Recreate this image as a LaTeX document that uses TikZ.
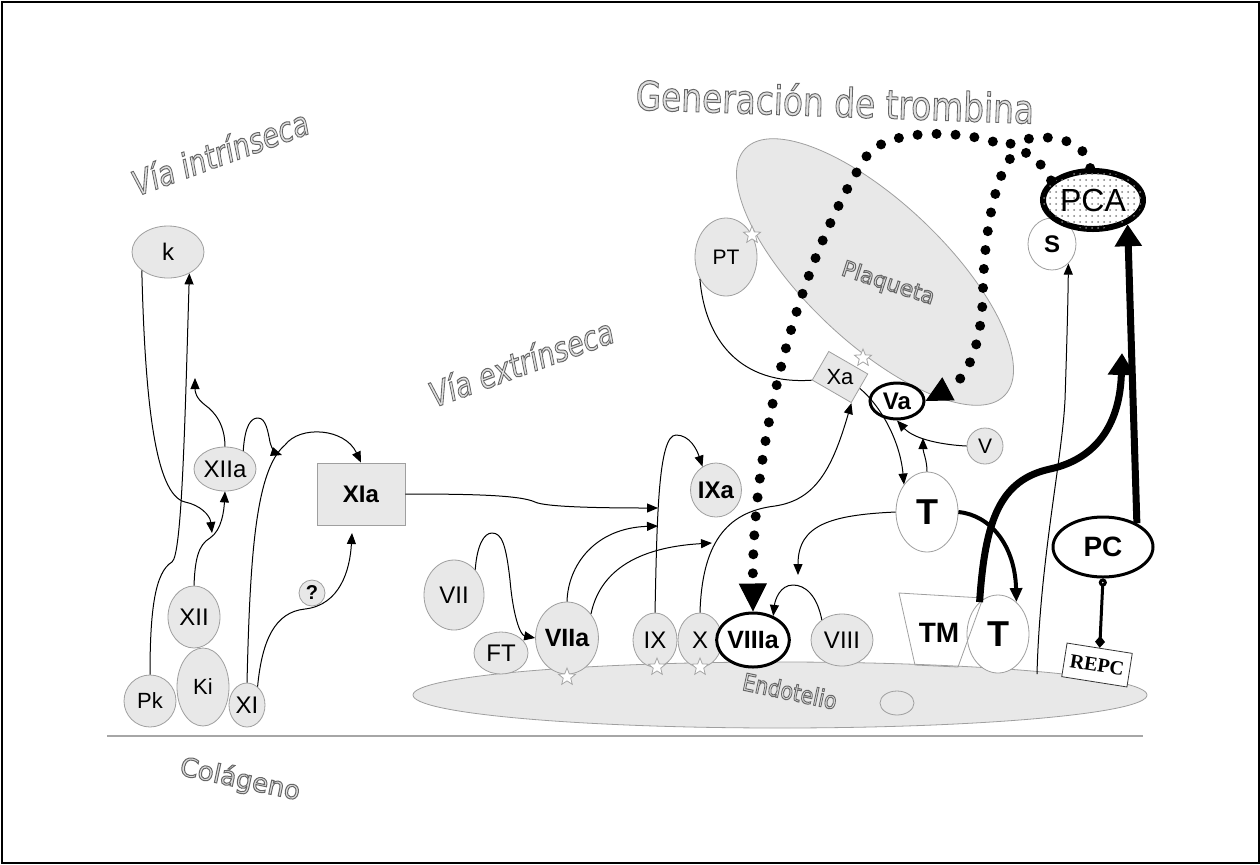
\documentclass[tikz,border=0pt]{standalone}
\usepackage{fontspec}
\setmainfont{Liberation Sans}
\newfontfamily\ttlfont{DejaVu Sans}
\newfontfamily\repcfont{Liberation Serif}
\usetikzlibrary{arrows.meta,shapes.geometric,patterns}
\newcommand\outlined[1]{\special{pdf:literal direct 2 Tr 0.5 w 0.4 G 0.88 g}#1\special{pdf:literal direct 0 Tr 0 g 0 G}}

\begin{document}
\begin{tikzpicture}[x=0.5pt, y=-0.5pt,
	fac/.style={ellipse, draw=gray!75, fill=gray!18, inner sep=0pt, font=\fontsize{12}{12}\selectfont},
	wnode/.style={ellipse, draw=gray!75, fill=white, inner sep=0pt},
	sz/.style 2 args={minimum width=#1pt, minimum height=#2pt},
	arr/.style={line width=0.5pt, -{Triangle[length=5.5pt,width=4.5pt]}},
	dotline/.style={line width=5pt, line cap=round, dash pattern=on 0pt off 9.5pt},
	starm/.style={star, star points=5, star point ratio=2.3, draw=gray!70, fill=white, inner sep=0pt, minimum size=9pt},
	ttl/.style={font=\ttlfont\fontsize{#1}{#1}\selectfont, inner sep=0pt}]
	\useasboundingbox (0,0) rectangle (1260,864);
	\draw[line width=1pt] (1.5,1.5) rectangle (1258.5,862.5);
	\draw[gray!70, line width=1pt] (107,736) -- (1143,736);

	\node[fac, sz={367}{33}] (endo) at (780,695) {};
	\node[fac, sz={17}{12}] (vac) at (897,703) {};
	\node[fac, sz={179}{70}, rotate=-43.5] (plaq) at (875,272) {};

	\node[ttl=17, rotate=20, xscale=0.8] (vint) at (220,152) {\itshape\outlined{Vía intrínseca}};
	\node[ttl=17, rotate=20, xscale=0.8] (vext) at (521,362) {\itshape\outlined{Vía extrínseca}};
	\node[ttl=20, rotate=-2, xscale=0.82] (gen) at (835,101) {\outlined{Generación de trombina}};
	\node[ttl=11, rotate=-18] (plab) at (888,284) {\outlined{Plaqueta}};
	\node[ttl=12, rotate=-12, xscale=0.85] (elab) at (790,691) {\outlined{Endotelio}};
	\node[ttl=13, rotate=-12] (clab) at (240,780) {\outlined{Colágeno}};

	\node[fac, sz={36}{26}] (k) at (168,252) {k};
	\node[fac, sz={31}{22}] (XIIa) at (225,469) {XIIa};
	\node[fac, rectangle, minimum width=44pt, minimum height=31pt, font=\fontsize{12}{12}\selectfont\bfseries] (XIa) at (361,494) {XIa};
	\node[fac, sz={26}{31}] (XII) at (194,617) {XII};
	\node[fac, sz={26}{39}, font=\fontsize{11}{11}\selectfont] (Ki) at (203,687) {Ki};
	\node[fac, sz={26}{26}, font=\fontsize{11}{11}\selectfont] (Pk) at (150,701) {Pk};
	\node[fac, sz={18}{22}] (XI) at (247,705) {XI};
	\node[fac, circle, minimum size=13pt, font=\fontsize{10}{10}\selectfont\bfseries] (q) at (312,593) {?};

	\node[fac, sz={30}{35}] (VII) at (454,595) {VII};
	\node[fac, sz={27}{21}] (FT) at (501,653) {FT};
	\node[fac, sz={31}{36}, font=\fontsize{12.5}{12.5}\selectfont\bfseries] (VIIa) at (567,638) {VIIa};
	\node[fac, sz={22}{27}] (IX) at (655,640) {IX};
	\node[fac, sz={22}{27}] (X) at (700,640) {X};
	\node[wnode, sz={31}{27}, draw=black, line width=1.5pt, font=\fontsize{12.5}{12.5}\selectfont\bfseries] (VIIIa) at (753,640) {VIIIa};
	\node[fac, sz={31}{26}] (VIII) at (842,640) {VIII};
	\node[fac, sz={21}{27}, font=\fontsize{12}{12}\selectfont\bfseries] (IXa) at (716,490) {IXa};

	\node[fac, sz={31}{39}, font=\fontsize{10.5}{10.5}\selectfont] (PT) at (726,257) {PT};
	\node[fac, rectangle, rotate=-30, minimum width=22.5pt, minimum height=16.5pt] (Xa) at (840,377) {};
	\node[font=\fontsize{11}{11}\selectfont] (Xalab) at (Xa) {Xa};
	\node[wnode, sz={27}{18}, draw=black, line width=1.5pt, font=\fontsize{12}{12}\selectfont\bfseries] (Va) at (897,401) {Va};
	\node[fac, sz={18}{18}, font=\fontsize{10.5}{10.5}\selectfont] (V) at (985,446) {V};
	\node[wnode, sz={31}{40}, font=\fontsize{18}{18}\selectfont\bfseries] (Ta) at (927,512) {T};
	\node[wnode, sz={31}{39}, font=\fontsize{18}{18}\selectfont\bfseries] (Tb) at (998,634) {T};
	\draw[gray!75] (899,593) -- (983,598) -- (958,667) -- (915,665) -- cycle;
	\node[font=\fontsize{14}{14}\selectfont\bfseries] (TM) at (939,633) {TM};
	\node[wnode, sz={24}{26}, font=\fontsize{12}{12}\selectfont\bfseries] (S) at (1052,244) {S};
	\node[ellipse, sz={50}{29}, inner sep=0pt, draw=black, line width=3pt, fill=white, postaction={pattern=dots, pattern color=gray}, font=\fontsize{16}{16}\selectfont] (PCA) at (1093,200) {PCA};
	\node[wnode, sz={50}{30}, draw=black, line width=1.5pt, font=\fontsize{14}{14}\selectfont\bfseries] (PC) at (1103,547) {PC};
	\node[draw=black!80, fill=white, rotate=-9, minimum width=33pt, minimum height=17pt, inner sep=0pt, font=\repcfont\fontsize{10}{10}\selectfont\bfseries] (REPC) at (1097,665) {REPC};

	\foreach \p [count=\i] in {(752,235),(863,358),(567,677),(657,667),(700,667)}
		\node[starm] (st\i) at \p {};

	\coordinate (kx) at (212,533);
	\coordinate (xa1) at (195,378);
	\coordinate (xa2) at (282,455);
	\coordinate (qx) at (352,533);
	\coordinate (ix1) at (658,508);
	\coordinate (ix2) at (658,526);
	\coordinate (xx) at (712,543);
	\coordinate (vx) at (923,438);
	\coordinate (tx) at (798,575);
	\coordinate (sbase) at (1037,674);
	\coordinate (pca1) at (1122,353);

	\draw[arr] (k.215) .. controls (145,400) and (155,495) .. (185,502) .. controls (200,505) and (210,515) .. (kx);
	\draw[arr] (Pk.north) .. controls (150,610) and (155,572) .. (172,562) .. controls (182,555) and (185,420) .. (k.-45);
	\draw[arr] (XII.north) .. controls (195,560) and (198,545) .. (210,538) .. controls (222,530) and (224,510) .. (XIIa.south);
	\draw[arr] (XIIa.north) .. controls (225,425) and (215,412) .. (205,405) .. controls (196,398) and (195,392) .. (xa1);
	\draw[arr] (XIIa.45) .. controls (245,425) and (251,418) .. (258,418) .. controls (266,418) and (268,432) .. (270,442) .. controls (272,450) and (276,453) .. (xa2);
	\draw[arr] (XI.north) .. controls (250,560) and (255,470) .. (285,445) .. controls (300,425) and (345,428) .. (XIa.north);
	\draw[arr] (XI.60) .. controls (262,640) and (275,612) .. (305,609) .. controls (340,605) and (350,570) .. (qx);

	\draw[arr] (XIa.east) .. controls (470,494) and (520,495) .. (535,502) .. controls (545,507) and (600,508) .. (ix1);
	\draw[arr] (IX.north) .. controls (657,520) and (658,435) .. (676,435) .. controls (690,435) and (697,450) .. (IXa.120);
	\draw[arr] (VII.50) .. controls (477,545) and (484,533) .. (492,533) .. controls (502,533) and (506,545) .. (510,580) .. controls (513,615) and (520,635) .. (VIIa.west);
	\draw[arr] (VIIa.north) .. controls (568,565) and (595,528) .. (ix2);
	\draw[arr] (VIIa.45) .. controls (598,580) and (625,548) .. (xx);
	\draw[arr] (X.north) .. controls (702,545) and (725,512) .. (775,506) .. controls (815,500) and (832,470) .. (Xa.south east);
	\draw[arr] (VIII.135) .. controls (817,595) and (805,585) .. (793,585) .. controls (780,585) and (775,600) .. (VIIIa.50);

	\draw[line width=0.5pt] (PT.220) .. controls (705,340) and (740,385) .. (Xa.south west);
	\draw[arr] (Xa.east) .. controls (880,405) and (900,440) .. (Ta.130);
	\draw[arr] (V.west) .. controls (945,445) and (915,440) .. (Va.south);
	\draw[arr] (Ta.north) .. controls (927,460) and (923,452) .. (vx);
	\draw[arr] (Ta.west) .. controls (830,515) and (798,525) .. (tx);
	\draw[arr] (sbase) .. controls (1040,560) and (1062,460) .. (1065,400) .. controls (1067,340) and (1068,300) .. (S.-50);
	\draw[line width=2pt, -{Triangle[length=7pt,width=6pt]}] (Ta.east) .. controls (990,515) and (1015,545) .. (Tb.60);
	\draw[line width=3.5pt, -{Triangle[length=11pt,width=13pt]}] (Tb.120) .. controls (985,520) and (1000,480) .. (1050,469) .. controls (1100,458) and (1120,420) .. (pca1);
	\draw[line width=3.5pt, -{Triangle[length=11pt,width=13pt]}] (PC.35) -- (PCA.-35);
	\draw[line width=1.5pt, {Circle[open,length=4pt]}-{Diamond[length=6pt,width=5pt]}] (PC.south) -- (REPC.north);

	\draw[dotline, -{Triangle[length=14pt,width=14pt,line width=0.5pt]}] (PCA.95) .. controls (1088,140) and (1045,128) .. (1005,146) .. controls (975,132) and (895,125) .. (868,154) .. controls (795,265) and (752,450) .. (VIIIa.north);
	\draw[dotline, -{Triangle[length=13pt,width=13pt,line width=0.5pt]}] (PCA.155) .. controls (1040,160) and (1025,145) .. (1013,155) .. controls (995,175) and (984,235) .. (983,290) .. controls (982,350) and (965,380) .. (Va.east);
\end{tikzpicture}
\end{document}
